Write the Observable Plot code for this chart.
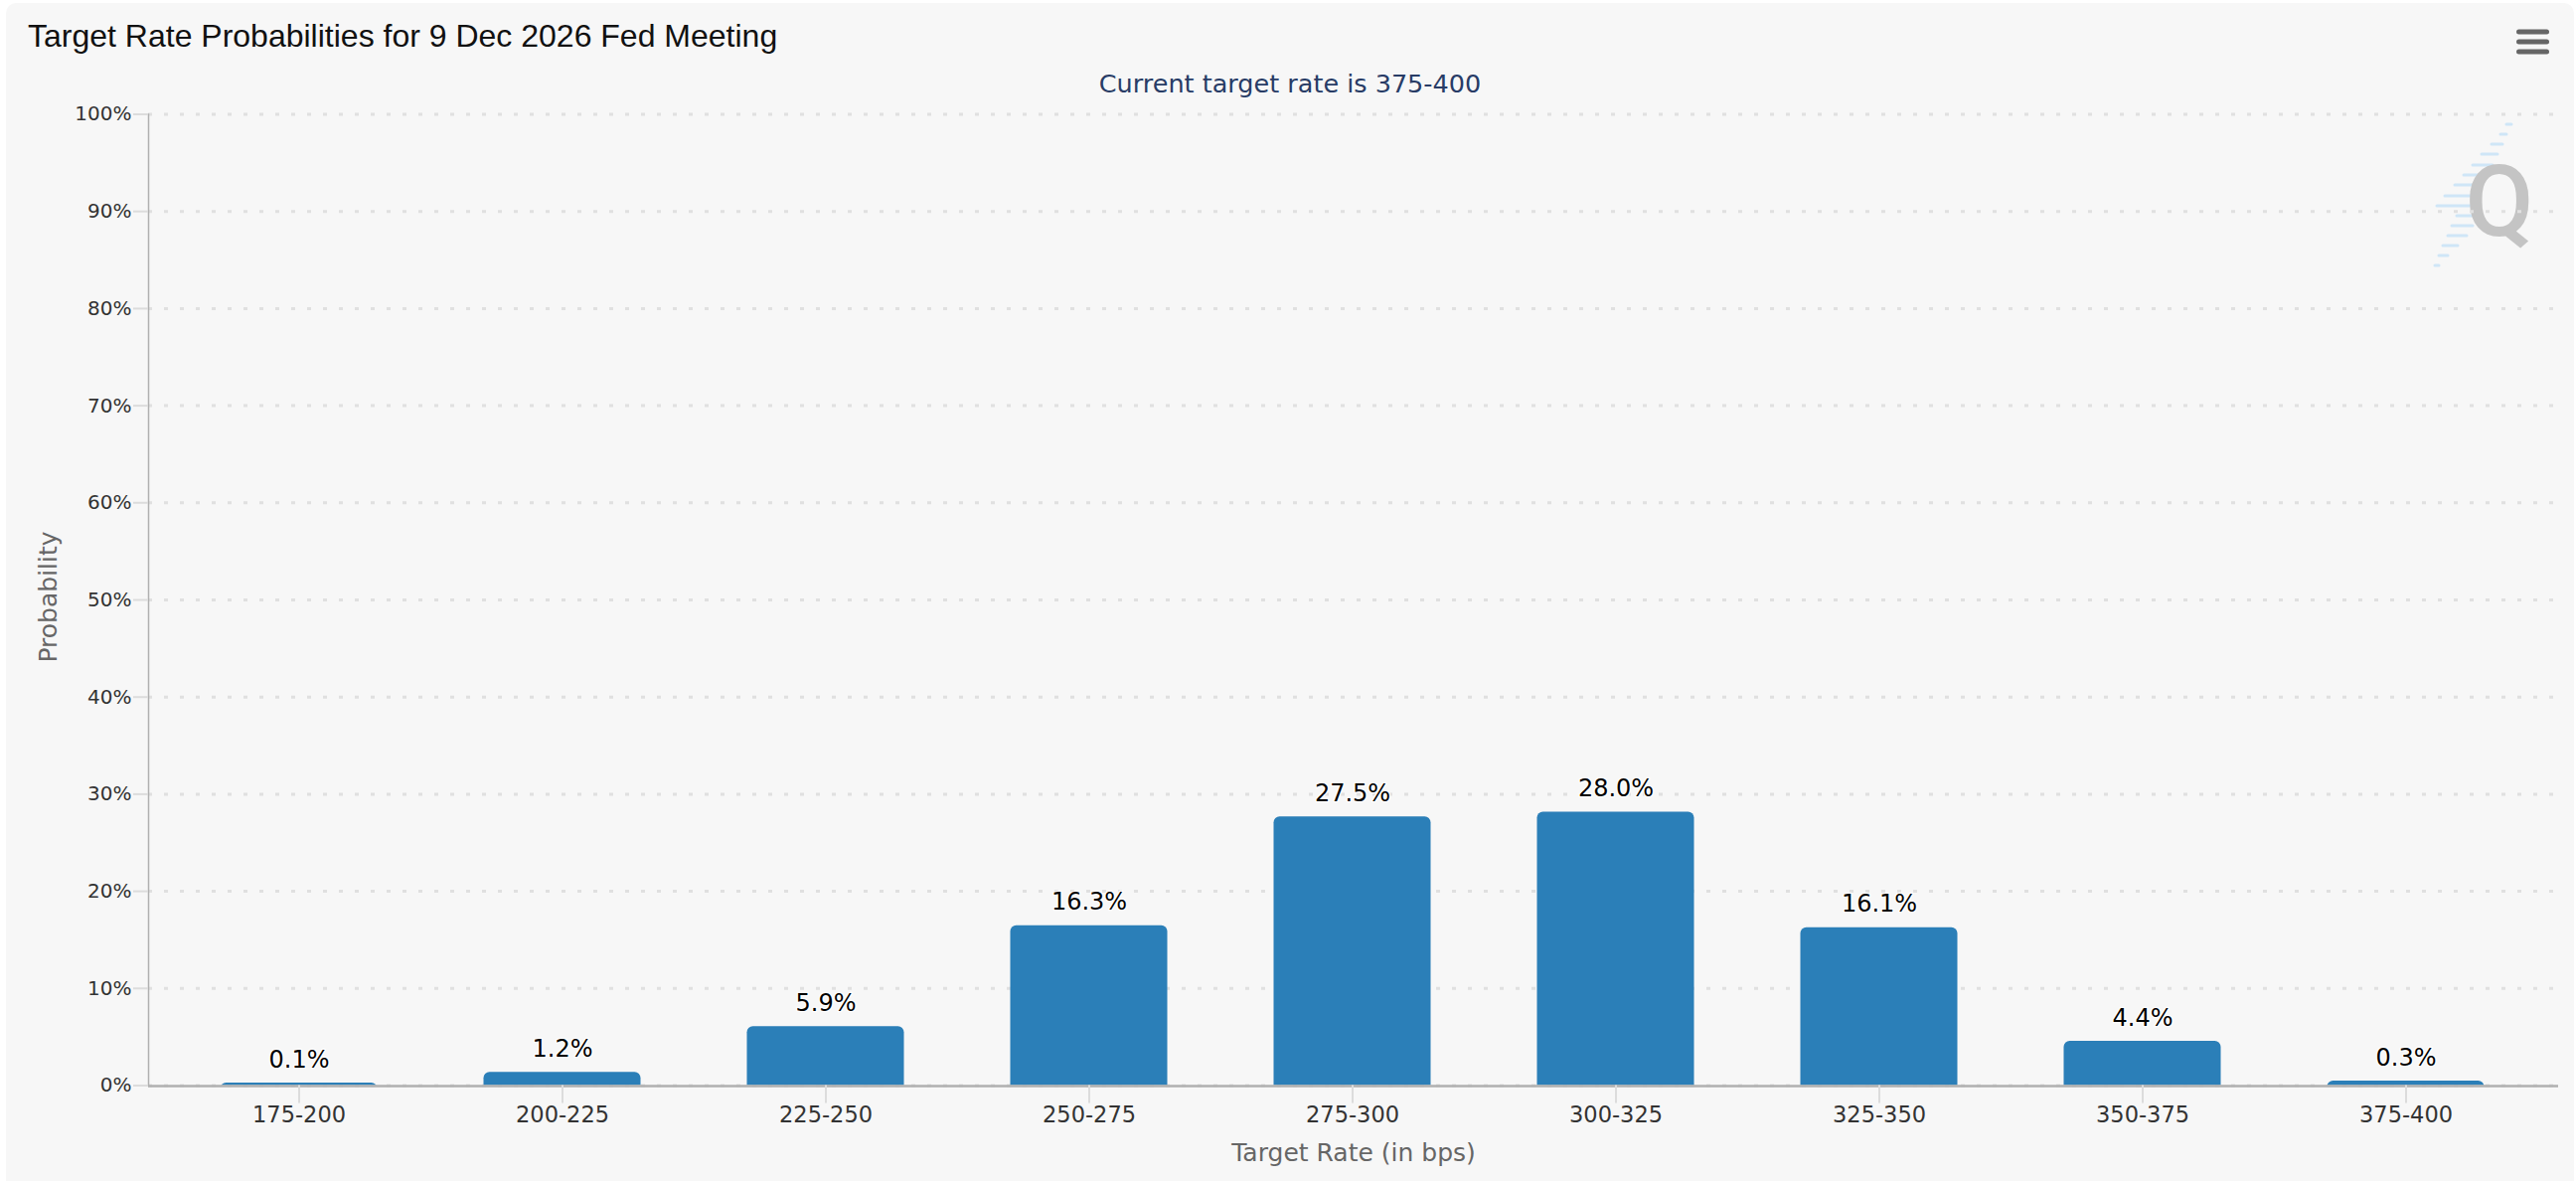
<!DOCTYPE html>
<html>
<head>
<meta charset="utf-8">
<script src="https://cdn.jsdelivr.net/npm/d3@7"></script>
<script src="https://cdn.jsdelivr.net/npm/@observablehq/plot@0.6"></script>
<style>
  html, body { margin: 0; padding: 0; background: #ffffff; }
  #page { position: relative; width: 2592px; height: 1188px; overflow: hidden; background: #ffffff; }
  #bg { position: absolute; left: 6px; top: 3px; width: 2584px; height: 1200px; background: #f7f7f7; border-radius: 10px; }
  #chart { position: absolute; left: 0; top: 0; }
  #overlay { position: absolute; left: 0; top: 0; pointer-events: none; }
</style>
</head>
<body>
<div id="page">
  <div id="bg"></div>
  <svg id="overlay" width="2592" height="1188" xmlns="http://www.w3.org/2000/svg">
    <text x="28" y="47" font-family="Liberation Sans, Arial, sans-serif" font-size="32" fill="#111">Target Rate Probabilities for 9 Dec 2026 Fed Meeting</text>
    <text x="1298" y="93" text-anchor="middle" font-family="DejaVu Sans, sans-serif" font-size="25.5" fill="#283c66">Current target rate is 375-400</text>
    <g fill="#666">
      <rect x="2532" y="29.5" width="33" height="5" rx="2.5"/>
      <rect x="2532" y="39.5" width="33" height="5" rx="2.5"/>
      <rect x="2532" y="49.5" width="33" height="5" rx="2.5"/>
    </g>
    <g stroke="#cfe6f7" stroke-width="3" stroke-linecap="round">
      <line x1="2522" y1="125" x2="2527" y2="125"/>
      <line x1="2516" y1="135" x2="2522" y2="135"/>
      <line x1="2507" y1="145" x2="2518" y2="145"/>
      <line x1="2497" y1="155" x2="2513" y2="155"/>
      <line x1="2488" y1="166" x2="2508" y2="166"/>
      <line x1="2479" y1="176" x2="2500" y2="176"/>
      <line x1="2470" y1="186" x2="2490" y2="186"/>
      <line x1="2460" y1="197" x2="2487" y2="197"/>
      <line x1="2452" y1="207" x2="2487" y2="207"/>
      <line x1="2472" y1="217" x2="2487" y2="217"/>
      <line x1="2467" y1="227" x2="2488" y2="227"/>
      <line x1="2463" y1="237" x2="2482" y2="237"/>
      <line x1="2458" y1="247" x2="2473" y2="247"/>
      <line x1="2454" y1="257" x2="2463" y2="257"/>
      <line x1="2450" y1="267" x2="2454" y2="267"/>
    </g>
    <text x="2515" y="237" text-anchor="middle" font-family="Roboto, sans-serif" font-weight="500" font-size="100" fill="#c4c4c4">Q</text>
  </svg>
  <div id="chart"></div>
</div>
<script>
// ---- data ----
const categories = ["175-200", "200-225", "225-250", "250-275", "275-300", "300-325", "325-350", "350-375", "375-400"];
const probabilities = [0.1, 1.2, 5.9, 16.3, 27.5, 28.0, 16.1, 4.4, 0.3];
const yTicks = [0, 10, 20, 30, 40, 50, 60, 70, 80, 90, 100];
const yAxisTitle = "Probability";
const xAxisTitle = "Target Rate (in bps)";

const rows = categories.map((c, i) => ({rate: c, prob: probabilities[i]}));

const chart = Plot.plot({
  width: 2592,
  height: 1188,
  marginTop: 114.5,
  marginBottom: 96.5,
  marginLeft: 149,
  marginRight: 18,
  style: {background: "transparent", fontFamily: "DejaVu Sans, sans-serif", overflow: "visible"},
  x: {type: "band", domain: categories, range: [167.5, 2553.3], padding: 0, label: null},
  y: {domain: [0, 100], label: null},
  marks: [
    Plot.gridY(yTicks, {stroke: "#e0e0e0", strokeOpacity: 1, strokeWidth: 3, strokeDasharray: "4,12"}),
    Plot.barY(rows, {x: "rate", y: "prob", fill: "#2b7fb8", rx: 6, insetLeft: 53.5, insetRight: 53.5, insetTop: -1.5, insetBottom: -10, clip: true}),
    Plot.ruleY([0], {stroke: "#b0b0b0", strokeWidth: 2.5, dy: 0.5}),
    Plot.frame({anchor: "left", stroke: "#b0b0b0", strokeWidth: 1.5}),
    Plot.axisY(yTicks, {tickSize: 15, tickPadding: 2, stroke: "#dcdcdc", strokeWidth: 2, fill: "#333", fontSize: 20, tickFormat: d => d + "%", label: null}),
    Plot.axisX({tickSize: 18, tickPadding: 3, stroke: "#dcdcdc", strokeWidth: 2, fill: "#333", fontSize: 22.5, label: null}),
    Plot.text(rows, {x: "rate", y: "prob", text: d => d.prob.toFixed(1) + "%", lineAnchor: "bottom", dy: -17.5, fontSize: 24, fill: "#000", stroke: "#fff", strokeWidth: 2.5, paintOrder: "stroke"}),
    Plot.text([yAxisTitle], {frameAnchor: "left", textAnchor: "middle", rotate: -90, dx: -101, dy: -3, fontSize: 25, fill: "#666"}),
    Plot.text([xAxisTitle], {frameAnchor: "bottom", textAnchor: "middle", lineAnchor: "bottom", dy: 75.5, fontSize: 25, fill: "#666"})
  ]
});
document.getElementById("chart").appendChild(chart);
</script>
</body>
</html>
